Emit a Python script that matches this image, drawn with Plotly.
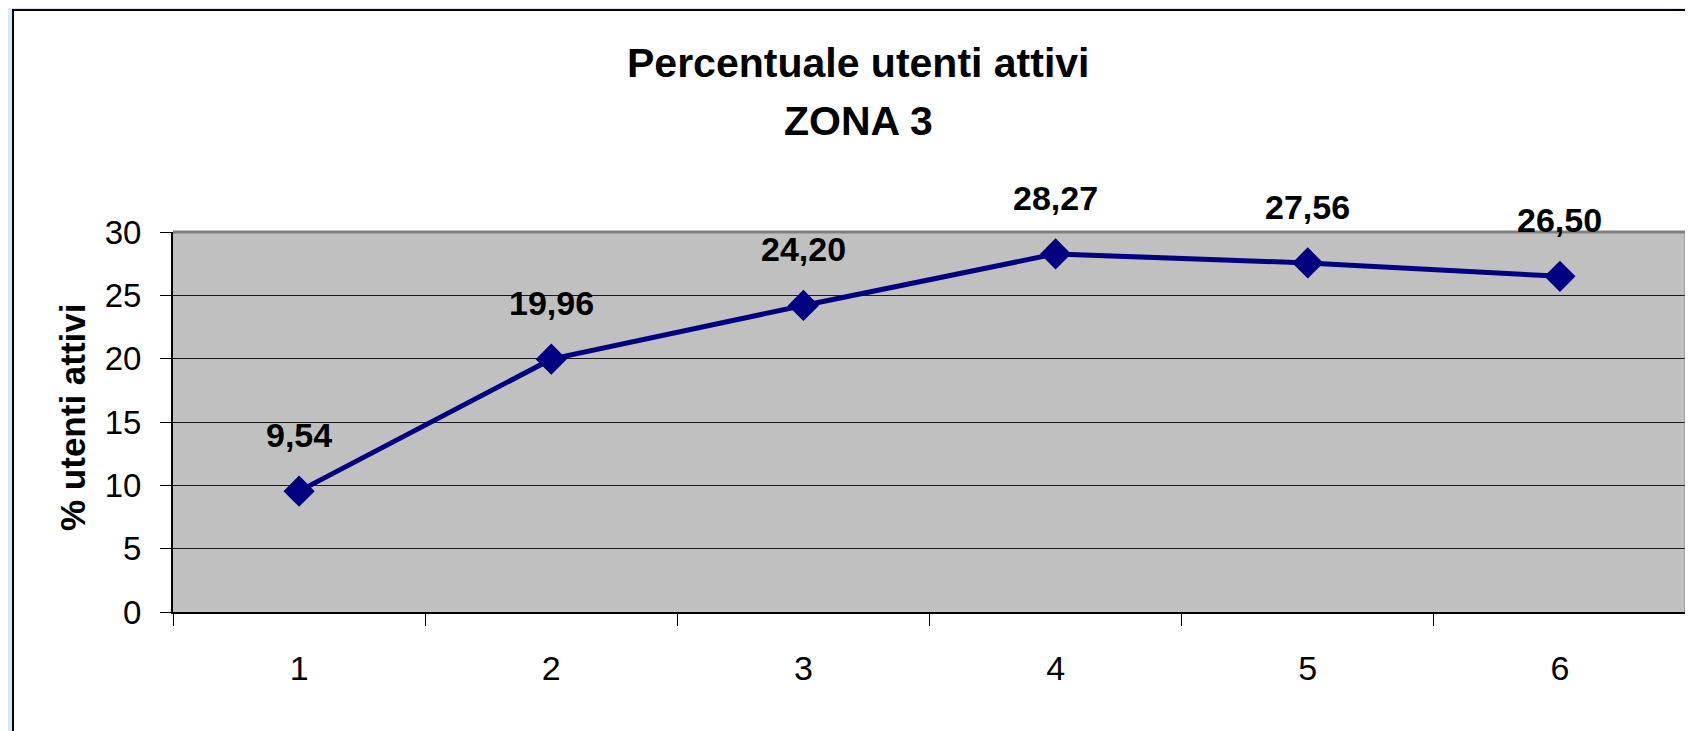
import plotly.graph_objects as go

# data
categorie = ['1', '2', '3', '4', '5', '6']
utenti_attivi = [9.54, 19.96, 24.20, 28.27, 27.56, 26.50]
etichette = [f'{v:.2f}'.replace('.', ',') for v in utenti_attivi]
y_ticks = [0, 5, 10, 15, 20, 25, 30]

FONT = 'Liberation Sans, Arial, sans-serif'
NAVY = '#000080'

# plot area in pixels (figure coords) -> paper helpers
PL, PT, PW, PH = 165, 224, 1513, 380


def px_x(x):
    return (x - 8 - PL) / PW


def px_y(y):
    return (PT + PH - (y - 8)) / PH


fig = go.Figure()

fig.add_trace(go.Scatter(
    x=categorie,
    y=utenti_attivi,
    mode='lines+markers',
    line=dict(color=NAVY, width=5),
    marker=dict(symbol='diamond', size=24, color=NAVY),
    hoverinfo='skip',
    showlegend=False
))

# data labels above points
for i, (val, lab) in enumerate(zip(utenti_attivi, etichette)):
    fig.add_annotation(
        x=i, y=val, text=f'<b>{lab}</b>', showarrow=False,
        xanchor='center', yanchor='middle', yshift=56,
        font=dict(family=FONT, size=34, color='black')
    )

# chart title
fig.add_annotation(
    xref='paper', yref='paper', x=px_x(858), y=px_y(63),
    xanchor='center', yanchor='middle',
    text='<b>Percentuale utenti attivi</b>', showarrow=False,
    font=dict(family=FONT, size=41, color='black')
)
fig.add_annotation(
    xref='paper', yref='paper', x=px_x(858), y=px_y(121),
    xanchor='center', yanchor='middle',
    text='<b>ZONA 3</b>', showarrow=False,
    font=dict(family=FONT, size=41, color='black')
)

# y axis title
fig.add_annotation(
    xref='paper', yref='paper', x=px_x(72), y=px_y(417),
    xanchor='center', yanchor='middle',
    text='<b>% utenti attivi</b>', showarrow=False, textangle=-90,
    font=dict(family=FONT, size=35, color='black')
)

# white chart box on blue background, then grey plot area on top of it
fig.add_shape(
    type='rect', xref='paper', yref='paper', layer='below',
    x0=px_x(13), x1=px_x(1720),
    y0=px_y(760), y1=px_y(10),
    fillcolor='white', line=dict(color='black', width=2)
)
fig.add_shape(
    type='rect', xref='paper', yref='paper', layer='below',
    x0=0, x1=1, y0=0, y1=1,
    fillcolor='#c0c0c0', line=dict(width=0)
)
# grey top and right plot border
fig.add_shape(type='line', xref='paper', yref='paper', x0=0, x1=1, y0=1, y1=1,
              line=dict(color='#808080', width=3))
fig.add_shape(type='line', xref='paper', yref='paper', x0=1, x1=1, y0=0, y1=1,
              line=dict(color='#808080', width=3))

fig.update_xaxes(
    type='category',
    range=[-0.5, 5.5],
    tickson='boundaries',
    ticks='outside', ticklen=12, tickcolor='black', tickwidth=1,
    showline=True, linecolor='black', linewidth=2,
    showgrid=False, zeroline=False,
    ticklabelstandoff=25,
    tickfont=dict(family=FONT, size=34, color='black')
)
fig.update_yaxes(
    range=[0, 30],
    tickvals=y_ticks,
    ticks='outside', ticklen=11, tickcolor='black', tickwidth=1,
    showline=True, linecolor='black', linewidth=2,
    showgrid=True, gridcolor='#1a1a1a', gridwidth=1,
    zeroline=False,
    ticklabelstandoff=12,
    tickfont=dict(family=FONT, size=33, color='black')
)

fig.update_layout(
    width=1685, height=723,
    margin=dict(l=PL, r=1685 - PL - PW, t=PT, b=723 - PT - PH),
    paper_bgcolor='#d8e7f6',
    plot_bgcolor='#c0c0c0',
    font=dict(family=FONT, color='black')
)

fig.write_html('out.html')
